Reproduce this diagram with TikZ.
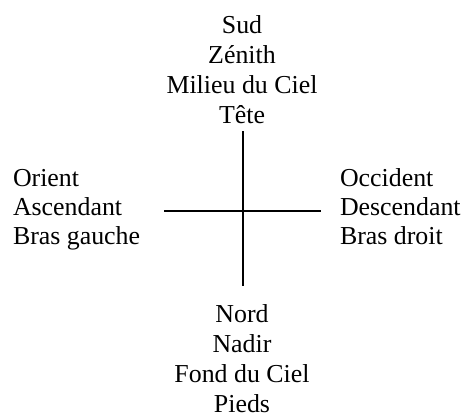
\documentclass[tikz,border=0pt]{standalone}
\usepackage{fontspec}
\setmainfont{Liberation Serif}
\begin{document}
\begin{tikzpicture}[x=0.75pt,y=-0.75pt,
  lbl/.style={inner sep=0pt, outer sep=0pt, font=\fontsize{19.4}{22.3}\selectfont},
  side/.style={lbl, align=left, font=\fontsize{19.4}{21.4}\selectfont},
  axis/.style={line width=1.1pt}]
\useasboundingbox (0,0) rectangle (464,414);
\node[lbl, align=center, anchor=base] (top) at (242,123) {Sud\\Zénith\\Milieu du Ciel\\Tête};
\node[lbl, align=center, anchor=base] (bot) at (242,412) {Nord\\Nadir\\Fond du Ciel\\Pieds};
\node[side, anchor=base west] (left) at (13,244) {Orient\\Ascendant\\Bras gauche};
\node[side, anchor=base west] (right) at (340,244) {Occident\\Descendant\\Bras droit};
\coordinate (n) at (243,131);
\coordinate (s) at (243,286);
\coordinate (w) at (164,211);
\coordinate (e) at (321,211);
\draw[axis] (n) -- (s);
\draw[axis] (w) -- (e);
\end{tikzpicture}
\end{document}
